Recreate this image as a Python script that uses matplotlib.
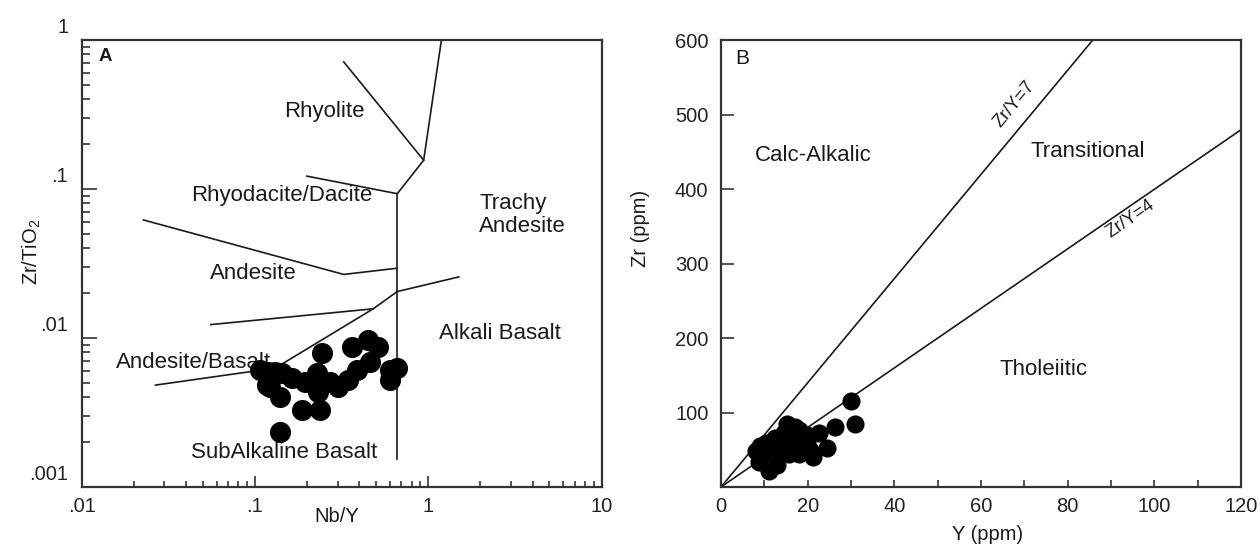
import numpy as np
import matplotlib
matplotlib.use("Agg")
import matplotlib.pyplot as plt
from matplotlib.ticker import FixedLocator, NullFormatter
from matplotlib.transforms import ScaledTranslation

plt.rcParams['font.family'] = ['Liberation Sans', 'DejaVu Sans']
plt.rcParams['mathtext.default'] = 'regular'

# ---------- panel A: Zr/TiO2 vs Nb/Y ----------
nby_a = [0.361, 0.451, 0.515, 0.243, 0.601, 0.601, 0.657, 0.461, 0.386,
         0.345, 0.302, 0.232, 0.227, 0.194, 0.163, 0.143, 0.119, 0.107,
         0.122, 0.139, 0.186, 0.237, 0.139, 0.271, 0.130, 0.117]
zrti_a = [0.00874, 0.0097, 0.00874, 0.0079, 0.0061, 0.00523, 0.00626, 0.00693,
          0.0061, 0.00523, 0.00471, 0.00436, 0.0058, 0.00509, 0.00536, 0.0058,
          0.00594, 0.0061, 0.00471, 0.00404, 0.00329, 0.00329, 0.00235, 0.00509,
          0.00594, 0.00484]

# field boundaries (Nb/Y, Zr/TiO2)
rhy_left = ([0.325, 0.94], [0.713, 0.156])
rhy_right = ([0.662, 0.94, 1.19], [0.093, 0.156, 1.0])
dacite_line = ([0.199, 0.662], [0.122, 0.093])
vert_line = ([0.662, 0.662], [0.093, 0.00155])
andesite_line = ([0.0227, 0.325, 0.662], [0.062, 0.0267, 0.0294])
alkali_line = ([0.662, 1.50], [0.0205, 0.0257])
diag_line = ([0.662, 0.481, 0.131], [0.0205, 0.0157, 0.00628])
andbas_upper = ([0.0556, 0.481], [0.0123, 0.0157])
andbas_lower = ([0.0267, 0.131], [0.00483, 0.00628])
boundaries_a = [rhy_left, rhy_right, dacite_line, vert_line, andesite_line,
                alkali_line, diag_line, andbas_upper, andbas_lower]

fields_a = ["Rhyolite", "Rhyodacite/Dacite", "Trachy\nAndesite", "Andesite",
            "Alkali Basalt", "Andesite/Basalt", "SubAlkaline Basalt"]
fields_a_x = [0.252, 0.142, 1.97, 0.098, 2.59, 0.0443, 0.148]
fields_a_y = [0.331, 0.0908, 0.0672, 0.027, 0.0107, 0.00689, 0.00171]
fields_a_ha = ["center", "center", "left", "center", "center", "center", "center"]

xt_a = [0.01, 0.1, 1, 10]
xt_a_lab = [".01", ".1", "1", "10"]
yt_a = [0.001, 0.01, 0.1, 1]
yt_a_lab = [".001", ".01", ".1", "1"]

# ---------- panel B: Zr vs Y ----------
y_b = [29.9, 31.0, 26.3, 24.5, 22.6, 21.2, 15.2, 17.0, 18.0, 18.0, 11.0, 8.7,
       8.0, 9.0, 10.5, 12.4, 13.8, 16.1, 19.8, 19.8, 15.6, 9.6, 12.8, 14.5,
       11.5, 17.5, 20.5, 13.0]
zr_b = [116, 85, 80, 53, 73, 40, 84, 80, 77, 45, 22, 33, 48, 55, 59, 66, 55,
        63, 59, 70, 45, 44, 40, 72, 50, 55, 50, 30]

ratios = [7, 4]
ratio_lab = ["Zr/Y=7", "Zr/Y=4"]
ratio_lab_x = [67.7, 94.5]
ratio_lab_y = [514, 360]

fields_b = ["Calc-Alkalic", "Transitional", "Tholeiitic"]
fields_b_x = [21.2, 84.7, 74.5]
fields_b_y = [445, 451, 158]

xt_b = [0, 20, 40, 60, 80, 100, 120]
yt_b = [100, 200, 300, 400, 500, 600]

# ---------- plot ----------
fig = plt.figure(figsize=(12.6, 5.47), dpi=100)
axA = fig.add_axes([0.0648, 0.1097, 0.4127, 0.8172])
axB = fig.add_axes([0.5722, 0.1097, 0.4127, 0.8163])

ink = '#1a1a1a'
for ax in (axA, axB):
    for s in ax.spines.values():
        s.set_linewidth(1.6)
        s.set_color('#333333')

# panel A
axA.set_xscale('log')
axA.set_yscale('log')
axA.set_xlim(0.01, 10)
axA.set_ylim(0.001, 1)
for bx, by in boundaries_a:
    axA.plot(bx, by, color=ink, lw=1.2)
axA.scatter(nby_a, zrti_a, s=230, color='black', zorder=4, linewidths=0)
for t, x, y, ha in zip(fields_a, fields_a_x, fields_a_y, fields_a_ha):
    axA.text(x, y, t, fontsize=16, ha=ha, va='center', color=ink,
             linespacing=1.1, zorder=3)
axA.text(0.046, 0.963, "A", transform=axA.transAxes, fontsize=13.5,
         fontweight='bold', ha='center', va='center', color=ink)

axA.xaxis.set_major_locator(FixedLocator(xt_a))
axA.set_xticklabels(xt_a_lab)
axA.yaxis.set_major_locator(FixedLocator(yt_a))
axA.set_yticklabels(yt_a_lab)
axA.xaxis.set_minor_formatter(NullFormatter())
axA.yaxis.set_minor_formatter(NullFormatter())
axA.tick_params(which='both', direction='in', top=False, right=False,
                labelsize=14.5, labelcolor='#222222', color='#222222', width=1.1)
axA.tick_params(axis='x', which='major', length=8, pad=7)
axA.tick_params(axis='x', which='minor', length=4)
axA.tick_params(axis='y', which='major', length=11, pad=9.6)
axA.tick_params(axis='y', which='minor', length=6)
shift = ScaledTranslation(0, 10.4 / 72, fig.dpi_scale_trans)
for lab in axA.yaxis.get_majorticklabels():
    lab.set_transform(lab.get_transform() + shift)

axA.set_xlabel("Nb/Y", fontsize=14.5, va='center', color=ink)
axA.xaxis.set_label_coords(0.491, -0.065)
axA.set_ylabel("Zr/TiO$_2$", fontsize=14.5, va='center', color=ink)
axA.yaxis.set_label_coords(-0.096, 0.527)

# panel B
axB.set_xlim(0, 120)
axB.set_ylim(0, 600)
for r in ratios:
    x_end = min(120, 600 / r)
    axB.plot([0, x_end], [0, r * x_end], color=ink, lw=1.2)
for t, r, x, y in zip(ratio_lab, ratios, ratio_lab_x, ratio_lab_y):
    axB.text(x, y, t, fontsize=13, ha='center', va='center', color=ink,
             rotation=np.degrees(np.arctan(r)), transform_rotates_text=True,
             rotation_mode='anchor')
axB.scatter(y_b, zr_b, s=170, color='black', zorder=4, linewidths=0)
for t, x, y in zip(fields_b, fields_b_x, fields_b_y):
    axB.text(x, y, t, fontsize=16, ha='center', va='center', color=ink)
axB.text(0.041, 0.960, "B", transform=axB.transAxes, fontsize=15,
         ha='center', va='center', color=ink)

axB.set_xticks(xt_b)
axB.set_xticks(np.arange(10, 120, 20), minor=True)
axB.set_yticks(yt_b)
axB.tick_params(which='both', direction='in', top=False, right=False,
                labelsize=14.5, labelcolor='#222222', color='#222222', width=1.1)
axB.tick_params(axis='x', which='both', length=5, pad=7)
axB.tick_params(axis='y', which='major', length=9, pad=9)

axB.set_xlabel("Y (ppm)", fontsize=14.5, va='center', color=ink)
axB.xaxis.set_label_coords(0.512, -0.107)
axB.set_ylabel("Zr (ppm)", fontsize=14.5, va='center', color=ink)
axB.yaxis.set_label_coords(-0.154, 0.578)

fig.savefig("out.png", dpi=100, facecolor='white')
